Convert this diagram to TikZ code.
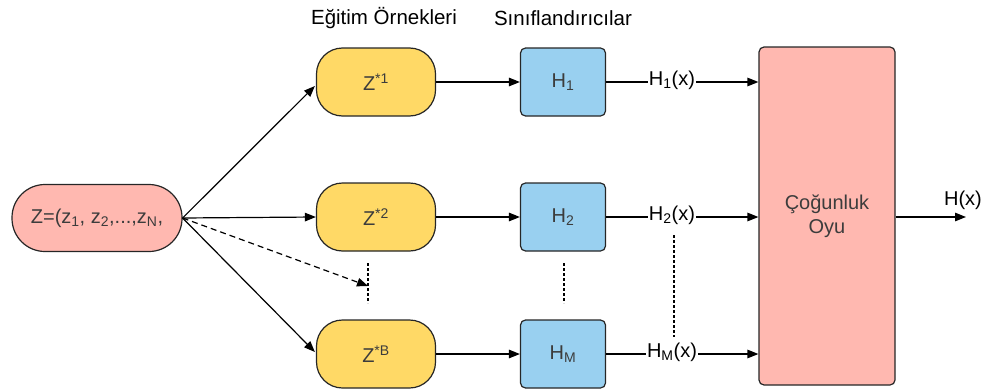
\documentclass[tikz,border=0pt]{standalone}
\usepackage{fontspec}
\setmainfont{Liberation Sans}
\usetikzlibrary{arrows.meta}
\definecolor{pinkfill}{RGB}{255,184,176}
\definecolor{yellowfill}{RGB}{255,217,102}
\definecolor{bluefill}{RGB}{153,208,240}
\definecolor{boxtext}{RGB}{60,60,60}
\tikzset{
  bigfont/.style={font=\fontsize{20}{24}\selectfont},
  stadium/.style={draw=black!85, line width=1.2pt, rounded corners=26pt, minimum height=68pt, text=boxtext, bigfont},
  sample/.style={stadium, fill=yellowfill, minimum width=119pt},
  classifier/.style={draw=black!85, line width=1.2pt, rounded corners=5pt, fill=bluefill, minimum width=85pt, minimum height=68pt, text=boxtext, bigfont},
  outlabel/.style={inner sep=1pt, bigfont},
  conn/.style={line width=1.2pt, -{Triangle[length=11pt,width=8.5pt]}},
  plain/.style={line width=1.2pt},
  dots/.style={line width=1.2pt, dash pattern=on 2.5pt off 2.5pt},
  title/.style={font=\fontsize{20.5}{24}\selectfont}
}
\begin{document}
\begin{tikzpicture}[x=1pt,y=-1pt]
\useasboundingbox (0,0) rectangle (984,388);

% source data set
\node[stadium, fill=pinkfill, minimum width=170pt, rounded corners=33pt, minimum height=67pt] (Z) at (97,218)
  {Z=(z\textsubscript{1}, z\textsubscript{2},...,z\textsubscript{N},};

% column titles
\node[title] (t1) at (384,18) {Eğitim Örnekleri};
\node[title] (t2) at (563,18) {Sınıflandırıcılar};

% bootstrap samples
\node[sample] (s1) at (376,82) {Z\textsuperscript{*1}};
\node[sample] (s2) at (376,217) {Z\textsuperscript{*2}};
\node[sample] (sB) at (376,354) {Z\textsuperscript{*B}};

% classifiers
\node[classifier] (h1) at (563,82) {H\textsubscript{1}};
\node[classifier] (h2) at (563,217) {H\textsubscript{2}};
\node[classifier] (hM) at (563,354) {H\textsubscript{M}};

% majority vote
\node[draw=black!85, line width=1.2pt, rounded corners=5pt, fill=pinkfill, minimum width=136pt, minimum height=338pt, text=boxtext, align=center, bigfont] (vote) at (827,216)
  {Çoğunluk\\Oyu};

% output labels
\node[outlabel] (o1) at (672,80) {H\textsubscript{1}(x)};
\node[outlabel] (o2) at (672,215) {H\textsubscript{2}(x)};
\node[outlabel] (oM) at (672,352) {H\textsubscript{M}(x)};
\node[outlabel] (out) at (963,200) {H(x)};

% ellipsis markers
\coordinate (dz) at (368,286);
\coordinate (dzt) at (368,263);
\coordinate (dzb) at (368,303);
\coordinate (dht) at (564,263);
\coordinate (dhb) at (564,303);
\coordinate (dot) at (674,235);
\coordinate (dob) at (674,337);
\coordinate (fin) at (966,217);

% sampling arrows
\draw[conn] (Z.east) -- ([xshift=-1pt,yshift=-4pt]s1.west);
\draw[conn] (Z.east) -- (s2.west);
\draw[conn] (Z.east) -- ([xshift=-1pt,yshift=2pt]sB.west);
\draw[conn, dash pattern=on 6pt off 4pt] (Z.east) -- (dz);

% training arrows
\draw[conn] (s1.east) -- (h1.west);
\draw[conn] (s2.east) -- (h2.west);
\draw[conn] (sB.east) -- (hM.west);

% classifier outputs
\draw[plain] (h1.east) -- (h1.east -| o1.west);
\draw[plain] (h2.east) -- (h2.east -| o2.west);
\draw[plain] (hM.east) -- (hM.east -| oM.west);
\draw[conn] (h1.east -| o1.east) -- (h1.east -| vote.west);
\draw[conn] (h2.east -| o2.east) -- (h2.east -| vote.west);
\draw[conn] (hM.east -| oM.east) -- (hM.east -| vote.west);
\draw[conn] (vote.east |- h2.east) -- (fin);

% vertical ellipses
\draw[dots] (dzt) -- (dzb);
\draw[dots] (dht) -- (dhb);
\draw[dots] (dot) -- (dob);
\end{tikzpicture}
\end{document}
